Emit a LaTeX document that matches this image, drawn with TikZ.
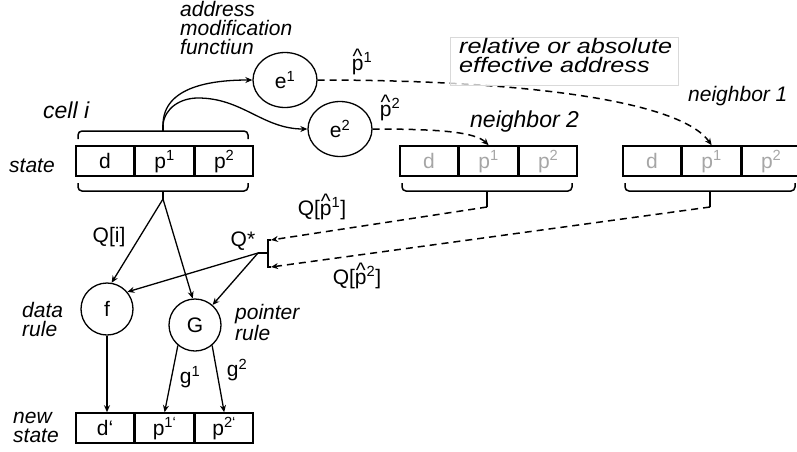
\documentclass[tikz,border=0pt]{standalone}
\usepackage{fontspec}
\setmainfont{Liberation Sans}
\newfontfamily\widefont[FakeStretch=1.2]{Liberation Sans}
\usetikzlibrary{arrows.meta,positioning,calc,shapes.geometric}

\newcommand{\phat}[1]{\rlap{\hspace{0.04em}\raisebox{0.3em}{\textasciicircum}}p\textsuperscript{#1}}

\begin{document}
\fontsize{21}{19}\selectfont
\begin{tikzpicture}[x=1pt,y=-1pt,>={Stealth[length=7pt,width=6pt]},
cell/.style={draw, line width=1.6pt, minimum width=58pt, minimum height=30pt, inner sep=0pt, text height=15pt, text depth=-6pt},
ghost/.style={cell, text=black!35},
rul/.style={circle, draw, line width=1.3pt, minimum size=52pt, inner sep=0pt},
eft/.style={ellipse, draw, line width=1.3pt, minimum width=64pt, minimum height=55pt, inner sep=0pt},
arr/.style={->, line width=1.3pt},
dsh/.style={->, line width=1.5pt, dash pattern=on 7pt off 5pt},
brc/.style={line width=1.5pt, rounded corners=4pt},
lbl/.style={font=\itshape, align=left, inner sep=0pt},
txt/.style={inner sep=0pt},
notebox/.style={draw=black!15, fill=white, fill opacity=0.75, line width=0.8pt, minimum width=228pt, minimum height=48pt}
]
\useasboundingbox (0,0) rectangle (797,451);
\def\bracket(#1:#2:#3:#4){
\draw[brc] (#1,#3) -- (#1,#4) -- (#2,#4) -- (#2,#3);
}
% cell i and its neighbors
\node[cell] (cd) at (105,161) {d};
\node[cell, right=0pt of cd] (cp1) {p\textsuperscript{1}};
\node[cell, right=0pt of cp1] (cp2) {p\textsuperscript{2}};
\node[ghost] (bd) at (429,161) {d};
\node[ghost, right=0pt of bd] (bp1) {p\textsuperscript{1}};
\node[ghost, right=0pt of bp1] (bp2) {p\textsuperscript{2}};
\node[ghost] (ad) at (652,161) {d};
\node[ghost, right=0pt of ad] (ap1) {p\textsuperscript{1}};
\node[ghost, right=0pt of ap1] (ap2) {p\textsuperscript{2}};
\node[cell] (nd) at (105,428) {d‘};
\node[cell, right=0pt of nd] (np1) {p\textsuperscript{1‘}};
\node[cell, right=0pt of np1] (np2) {p\textsuperscript{2‘}};
% braces
\bracket(78:248:139:131)
\bracket(78:248:183:191)
\bracket(402:572:183:191)
\bracket(625:795:183:191)
\draw[brc] (163,131) -- (163,125) coordinate (ctop);
\draw[brc] (163,191) -- (163,199) coordinate (cbot);
\draw[brc] (487,191) -- (487,207) coordinate (btip);
\draw[brc] (710,191) -- (710,207) coordinate (atip);
% rules
\node[eft] (e1) at (285,80) {e\textsuperscript{1}};
\node[eft] (e2) at (340,129) {e\textsuperscript{2}};
\node[rul] (f) at (107,309) {f};
\node[rul] (G) at (195,325) {G};
% address modification
\draw[arr] (ctop) to[out=90,in=180] (e1.west);
\draw[arr] (ctop) to[out=85,in=180] (198,98) to[out=0,in=180] (e2.west);
\draw[dsh] (e1.east) .. controls (520,80) and (680,100) .. (ap1.north);
\draw[dsh] (e2.east) .. controls (440,129) and (475,132) .. (bp1.north);
\node[notebox] (rel) at (564,61) {};
\node[lbl, anchor=north west, font=\widefont\itshape] (reltxt) at (459,38) {relative or absolute\\effective address};
% Q* collector
\coordinate (qs) at (258,253);
\coordinate (qt) at (271,240);
\coordinate (qb) at (271,267);
\draw[line width=1.5pt] (qs) -- (268,253) (qt) -- (268,240) -- (268,267) -- (qb);
\draw[dsh] (btip) -- (qt);
\draw[dsh] (atip) -- (qb);
\draw[arr] (cbot) -- (f.80);
\draw[arr] (cbot) -- (G.95);
\draw[arr] (qs) -- (f.40);
\draw[arr] (qs) -- (G);
\draw[arr] (f) -- (f |- nd.north);
\draw[arr] (G.230) -- (np1.north);
\draw[arr] (G.310) -- (np2.north);
% labels
\node[lbl, anchor=north west] (amf) at (180,1) {address\\modification\\functiun};
\node[lbl, anchor=base west, font=\fontsize{23}{19}\selectfont\itshape] (celli) at (43,118) {cell i};
\node[lbl, anchor=base west] (st) at (9,172) {state};
\node[lbl, anchor=base west, font=\fontsize{23}{19}\selectfont\itshape] (nb2) at (470,127) {neighbor 2};
\node[lbl, anchor=base west] (nb1) at (688,101) {neighbor 1};
\node[lbl, anchor=north west] (dr) at (22,302) {data\\rule};
\node[lbl, anchor=north west] (pr) at (235,304) {pointer\\rule};
\node[lbl, anchor=north west] (ns) at (13,412) {new\\state};
\node[txt] (ph1) at (362,62) {\phat{1}};
\node[txt] (ph2) at (390,108) {\phat{2}};
\node[txt] (qi) at (109,237) {Q[i]};
\node[txt] (qstar) at (243,241) {Q*};
\node[txt] (qp1) at (322,207) {Q[\phat{1}]};
\node[txt] (qp2) at (357,276) {Q[\phat{2}]};
\node[txt] (g1) at (190,377) {g\textsuperscript{1}};
\node[txt] (g2) at (237,370) {g\textsuperscript{2}};
\end{tikzpicture}
\end{document}
